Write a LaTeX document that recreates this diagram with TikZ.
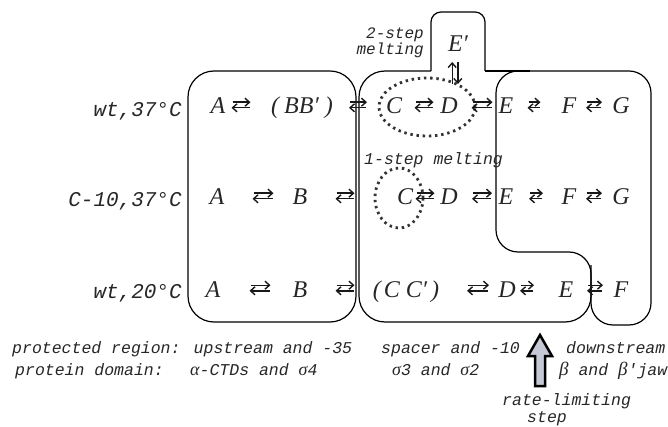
\documentclass[tikz,border=0pt]{standalone}
\usepackage{fontspec}
\usetikzlibrary{arrows.meta}
\setmainfont{Liberation Serif}
\newfontfamily\monof{Liberation Mono}
\definecolor{arrowfill}{HTML}{C5C8D5}
\begin{document}
\begin{tikzpicture}[x=1pt,y=-1pt,
  lbl/.style={font=\monof\itshape\fontsize{21}{21}\selectfont, anchor=base east, inner sep=0pt, text=black!85},
  sp/.style={font=\itshape\fontsize{24}{24}\selectfont, anchor=base, inner sep=0pt, text=black!85},
  note/.style={font=\monof\itshape\fontsize{16.5}{16.5}\selectfont, anchor=base west, inner sep=0pt, text=black!85},
  regionbox/.style={draw, line width=1.2pt},
  arrline/.style={draw=black!90, line width=1.4pt, -{Straight Barb[length=4.5pt,width=8pt,line width=1.4pt]}},
  eqarr/.pic={
    \draw[arrline] ({-#1/2+0.5},-2.8) -- ({#1/2+0.5},-2.8);
    \draw[arrline] ({#1/2-0.5},2.8) -- ({-#1/2-0.5},2.8);
  },
  melt/.style={draw=black!80, line width=2.8pt, dash pattern=on 2.4pt off 3.8pt}]
\useasboundingbox (0,0) rectangle (668,427);

% regions
\draw[regionbox, rounded corners=26pt] (188,71) rectangle (356,322);
\draw[regionbox, rounded corners=26pt] (591,265) -- (591,322) -- (359,322) -- (359,71) -- (431,71);
\draw[regionbox, rounded corners=10pt] (431,71) -- (431,12) -- (485,12) -- (485,71);
\draw[regionbox] (485,71) -- (530,71);
\draw[regionbox, rounded corners=22pt] (496,150) -- (496,252) -- (591,252) -- (591,325) -- (651,325) -- (651,71) -- (496,71) -- cycle;

% melting ellipses
\draw[melt] (427,107) ellipse [x radius=48pt, y radius=29pt];
\draw[melt] (399,198) ellipse [x radius=24pt, y radius=30pt];

% row labels
\node[lbl] (l1) at (182,117) {wt,37°C};
\node[lbl] (l2) at (182,207) {C-10,37°C};
\node[lbl] (l3) at (182,298) {wt,20°C};

% row 1
\node[sp] (r1A) at (218,114) {A};
\pic at (241,105) {eqarr=18};
\node[sp] (r1B) at (302,114) {(\hspace{5pt}BB′\hspace{6pt})};
\pic at (358,105) {eqarr=17};
\node[sp] (r1C) at (394,114) {C};
\pic at (424,105) {eqarr=18};
\node[sp] (r1D) at (449,114) {D};
\pic at (482,105) {eqarr=20};
\node[sp] (r1E) at (506,114) {E};
\pic at (534,105) {eqarr=12};
\node[sp] (r1F) at (569,114) {F};
\pic at (594,105) {eqarr=15};
\node[sp] (r1G) at (621,114) {G};

% row 2
\node[sp] (r2A) at (217,205) {A};
\pic at (263,196) {eqarr=20};
\node[sp] (r2B) at (300,205) {B};
\pic at (345,196) {eqarr=18};
\node[sp] (r2C) at (405,205) {C};
\pic at (425,196) {eqarr=18};
\node[sp] (r2D) at (449,205) {D};
\pic at (482,196) {eqarr=19};
\node[sp] (r2E) at (506,205) {E};
\pic at (536,196) {eqarr=13};
\node[sp] (r2F) at (569,205) {F};
\pic at (594,196) {eqarr=15};
\node[sp] (r2G) at (621,205) {G};

% row 3
\node[sp] (r3A) at (213,297) {A};
\pic at (260,288) {eqarr=20};
\node[sp] (r3B) at (300,297) {B};
\pic at (345,288) {eqarr=18};
\node[sp] (r3C) at (406,297) {(\hspace{3pt}C\hspace{6pt}C′\hspace{4pt})};
\pic at (478,288) {eqarr=21};
\node[sp] (r3D) at (507,297) {D};
\pic at (527,288) {eqarr=13};
\node[sp] (r3E) at (566,297) {E};
\pic at (595,288) {eqarr=15};
\node[sp] (r3F) at (621,297) {F};

% E' branch
\node[sp] (Ep) at (458,52) {E′};
\coordinate (udtop) at (455,62);
\coordinate (udbot) at (455,84);
\draw[arrline] ([xshift=-2.8pt]udbot) -- ([xshift=-2.8pt]udtop);
\draw[arrline] ([xshift=2.8pt]udtop) -- ([xshift=2.8pt]udbot);
\node[font=\monof\itshape\fontsize{16}{14}\selectfont, align=right, anchor=north east, inner sep=0pt, text=black!85] (m2) at (424,28) {2-step\\melting};
\node[note] (m1) at (364,165) {1-step melting};

% bottom text
\node[note] (p1) at (12,353) {protected region: upstream and -35};
\node[note] (p2) at (15,375) {protein domain:};
\node[note] (p3) at (190,375) {{\rmfamily\itshape\fontsize{18}{18}\selectfont α}-CTDs and {\rmfamily\fontsize{18}{18}\selectfont σ}4};
\node[note] (s1) at (381,353) {spacer and -10};
\node[note] (s2) at (392,375) {{\rmfamily\fontsize{18}{18}\selectfont σ}3 and {\rmfamily\fontsize{18}{18}\selectfont σ}2};
\node[note] (d1) at (566,353) {downstream};
\node[note] (d2) at (559,375) {{\rmfamily\itshape\fontsize{19}{19}\selectfont β} and {\rmfamily\itshape\fontsize{19}{19}\selectfont β}′jaw};
\node[note] (rl) at (502,405) {rate-limiting};
\node[note, anchor=base] (st) at (547,422) {step};

% rate-limiting arrow
\draw[line width=2.5pt, fill=arrowfill] (540,335) -- (552,356) -- (545,356) -- (545,386) -- (535,386) -- (535,356) -- (528,356) -- cycle;
\end{tikzpicture}
\end{document}
